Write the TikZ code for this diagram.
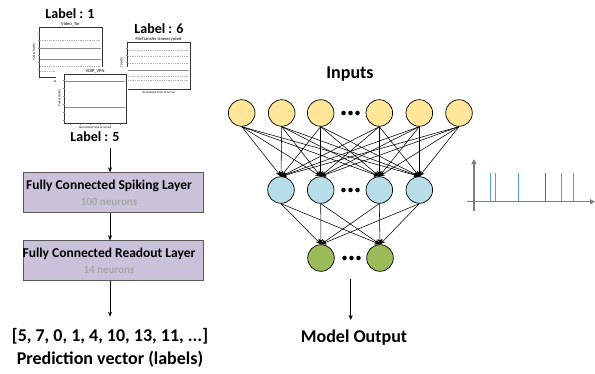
\documentclass[tikz,border=0pt]{standalone}
\usepackage{fontspec}
\setmainfont{Carlito}
\usetikzlibrary{arrows.meta}
\definecolor{inY}{HTML}{FFE699}
\definecolor{hidB}{HTML}{B7DEE8}
\definecolor{outG}{HTML}{9BBB59}
\definecolor{boxfill}{HTML}{CCC1DA}
\definecolor{boxline}{HTML}{595959}
\definecolor{subgray}{HTML}{A6A6A6}
\definecolor{axgray}{HTML}{7F7F7F}
\definecolor{spikeB}{HTML}{5B9BD5}
\definecolor{spikeD}{HTML}{2E75B6}
\definecolor{plotline}{HTML}{8C8C8C}
\begin{document}
\begin{tikzpicture}[x=1pt,y=-1pt,
  neuron/.style={circle, draw=black, line width=0.7pt, minimum size=26.6pt, inner sep=0pt},
  inp/.style={neuron, fill=inY},
  hid/.style={neuron, fill=hidB},
  outn/.style={neuron, fill=outG},
  conn/.style={-{Stealth[length=5.5pt,width=4.5pt]}, line width=0.55pt},
  flow/.style={-{Stealth[length=5pt,width=4pt]}, line width=0.6pt},
  layerbox/.style={draw=boxline, fill=boxfill, line width=0.8pt, minimum width=180pt, minimum height=40pt, inner sep=0pt},
  boxtitle/.style={font=\fontsize{13.5}{15}\selectfont\bfseries, inner sep=0pt},
  boxsub/.style={font=\fontsize{11}{13}\selectfont\bfseries, text=subgray, inner sep=0pt},
  bigtext/.style={font=\fontsize{18}{20}\selectfont\bfseries, inner sep=0pt},
  labtext/.style={font=\fontsize{14}{16}\selectfont\bfseries, inner sep=0pt},
  ptitle/.style={font=\fontsize{4.5}{5}\selectfont, inner sep=0pt},
  paxis/.style={font=\fontsize{3}{3.5}\selectfont, inner sep=0pt},
  pframe/.style={draw=black!80, line width=0.9pt, fill=white},
  pline/.style={draw=plotline, line width=0.5pt},
  pdot/.style={draw=plotline!70, line width=0.4pt, dash pattern=on 0.6pt off 1.2pt},
  axis/.style={draw=axgray, line width=1.2pt, -{Triangle[length=5pt,width=5pt]}},
  spike/.style={draw=spikeB, line width=1pt}
]
\useasboundingbox (0,0) rectangle (595,373);

% ---------- traffic plots ----------
% Video_Tor
\node[labtext] (lab1) at (70,14) {Label : 1};
\node[ptitle] (t1) at (70.5,24.5) {Video\_Tor};
\draw[pframe] (39,27) rectangle (102,77);
\node[paxis, rotate=90] (y1) at (34,52) {Packet Size(B)};
\node[paxis] (x1) at (70,81) {Normalized Time of Arrival};
\draw[pline] (40,48) -- (101,48);
\draw[pline] (40,59) -- (101,59);
\draw[pdot] (40,40) -- (101,40);
\draw[pdot] (40,66) -- (101,66);
\draw[pdot] (40,71) -- (101,71);
\foreach \yy in {33,40,48,55,62,69} \draw[plotline, line width=0.3pt] (38,\yy) -- (40,\yy);

% FileTransfer
\node[labtext] (lab6) at (159,29) {Label : 6};
\node[ptitle] (t6) at (158.5,39.5) {FileTransfer Unencrypted};
\draw[pframe] (127,42.5) rectangle (190,89);
\node[paxis, rotate=90] (y6) at (121.5,66) {Packet Size(B)};
\node[paxis] (x6) at (158.5,92.5) {Normalized Time of Arrival};
\draw[pline] (128,70.5) -- (189,70.5);
\draw[pdot] (128,63) -- (189,63);
\draw[pdot] (128,50) -- (189,50);
\draw[pdot] (128,56) -- (189,56);
\draw[pdot] (128,76) -- (189,76);
\draw[pdot] (128,80) -- (189,80);
\foreach \yy in {48,55,62,69,76,83} \draw[plotline, line width=0.3pt] (126,\yy) -- (128,\yy);

% VOIP_VPN (on top of Video_Tor)
\fill[white] (56,67) rectangle (127.5,131);
\node[ptitle] (t5) at (95,71.5) {VOIP\_VPN};
\draw[pframe] (64,74) rectangle (126,123.5);
\node[paxis, rotate=90] (y5) at (59.5,98) {Packet Size(B)};
\node[paxis] (x5) at (95,127.5) {Normalized Time of Arrival};
\draw[pline] (65,81.5) -- (125,81.5);
\draw[pline] (65,107.5) -- (125,107.5);
\foreach \yy in {80,88,96,104,112,120} \draw[plotline, line width=0.3pt] (63,\yy) -- (65,\yy);
\foreach \xx in {70,80,90,100,110,120} \draw[plotline, line width=0.3pt] (\xx,123.5) -- (\xx,125);
\node[labtext] (lab5) at (95,136.5) {Label : 5};

% ---------- left pipeline ----------
\coordinate (a0) at (110,148);
\node[layerbox] (spk) at (113,192.7) {};
\node[boxtitle] (spkt) at (109,185.5) {Fully Connected Spiking Layer};
\node[boxsub] (spks) at (109,201.5) {100 neurons};
\node[layerbox] (ro) at (113,260.7) {};
\node[boxtitle] (rot) at (109,253.5) {Fully Connected Readout Layer};
\node[boxsub] (ros) at (109,269.5) {14 neurons};
\coordinate (a3) at (110,316.7);
\node[bigtext] (vec) at (110,336.5) {[5, 7, 0, 1, 4, 10, 13, 11, ...]};
\node[bigtext] (pv) at (110,359.5) {Prediction vector (labels)};
\draw[flow] (a0) -- (a0 |- spk.north);
\draw[flow] (a0 |- spk.south) -- (a0 |- ro.north);
\draw[flow] (a0 |- ro.south) -- (a3);

% ---------- network ----------
\node[bigtext] (inputs) at (350,74) {Inputs};
\foreach \n/\xx in {1/241.7,2/281.7,3/320.7,4/379.3,5/419.3,6/459}
  \node[inp] (i\n) at (\xx,113) {};
\foreach \n/\xx in {1/281,2/320.7,3/379.3,4/419.3}
  \node[hid] (h\n) at (\xx,190) {};
\foreach \n/\xx in {1/321,2/380}
  \node[outn] (o\n) at (\xx,258) {};
\foreach \yy/\cx in {113/350.5,190/350.5,258/351.5}
  \foreach \dx in {-7,0,7}
    \fill (\cx+\dx,\yy) circle (2.3);
\foreach \a in {1,...,6}
  \foreach \b in {1,...,4}
    \draw[conn] (i\a.south) -- (h\b.north);
\foreach \a in {1,...,4}
  \foreach \b in {1,2}
    \draw[conn] (h\a.south) -- (o\b.north);
\coordinate (m0) at (350.7,279);
\coordinate (m1) at (350.7,320);
\draw[flow] (m0) -- (m1);
\node[bigtext] (mo) at (354,338) {Model Output};

% ---------- spike train ----------
\coordinate (so) at (474,201.7);
\coordinate (sy0) at (474,210.5);
\coordinate (sy1) at (474,159);
\coordinate (sx0) at (467,201.7);
\coordinate (sx1) at (595,201.7);
\foreach \xx in {490,495.7,518,561.7,573}
  \draw[spike] (\xx,201.7) -- (\xx,173.3);
\draw[spike, draw=spikeD] (545.7,201.7) -- (545.7,173.3);
\draw[axis] (sy0) -- (sy1);
\draw[axis] (sx0) -- (sx1);
\end{tikzpicture}
\end{document}
